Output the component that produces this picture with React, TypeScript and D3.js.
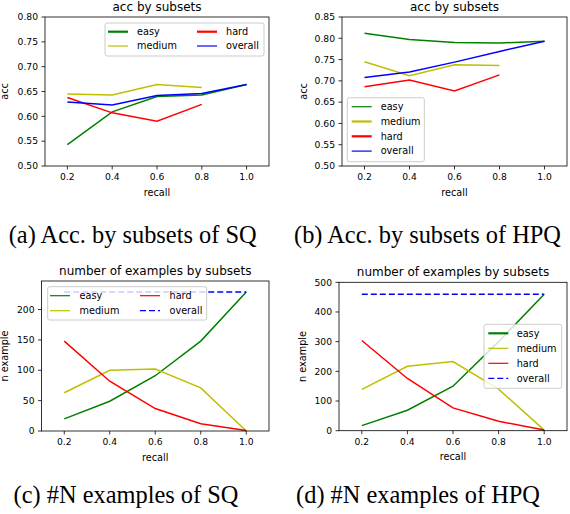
import React from "react";
import * as d3 from "d3";

// recall thresholds shared by all four panels
const recall = [0.2, 0.4, 0.6, 0.8, 1.0];
const xTicks = [0.2, 0.4, 0.6, 0.8, 1.0];

// (a) accuracy by subsets, SQ
const sqAccEasy = [0.543, 0.609, 0.64, 0.643, 0.664];
const sqAccMedium = [0.645, 0.643, 0.664, 0.658, null];
const sqAccHard = [0.638, 0.607, 0.59, 0.624, null];
const sqAccOverall = [0.629, 0.623, 0.642, 0.646, 0.664];
const sqAccTicks = [0.5, 0.55, 0.6, 0.65, 0.7, 0.75, 0.8];

// (b) accuracy by subsets, HPQ
const hpqAccEasy = [0.812, 0.797, 0.79, 0.789, 0.793];
const hpqAccMedium = [0.745, 0.712, 0.738, 0.736, null];
const hpqAccHard = [0.686, 0.702, 0.676, 0.714, null];
const hpqAccOverall = [0.708, 0.721, 0.744, 0.769, 0.793];
const hpqAccTicks = [0.5, 0.55, 0.6, 0.65, 0.7, 0.75, 0.8, 0.85];

// (c) number of examples, SQ
const sqNEasy = [20, 49, 91, 148, 229];
const sqNMedium = [63, 100, 102, 71, 0];
const sqNHard = [148, 82, 37, 12, 1];
const sqNOverall = [229, 229, 229, 229, 229];
const sqNTicks = [0, 50, 100, 150, 200];

// (d) number of examples, HPQ
const hpqNEasy = [17, 69, 150, 300, 460];
const hpqNMedium = [139, 217, 233, 140, 2];
const hpqNHard = [304, 176, 77, 32, 2];
const hpqNOverall = [460, 460, 460, 460, 460];
const hpqNTicks = [0, 100, 200, 300, 400, 500];

const COLORS: Record<string, string> = {
  easy: "#008000",
  medium: "#bfbf00",
  hard: "#ff0000",
  overall: "#0000ff",
};

const SANS = "'DejaVu Sans', sans-serif";
const SERIF = "'Liberation Serif', 'Times New Roman', serif";

interface Series {
  name: string;
  values: (number | null)[];
  dashed?: boolean;
}

interface LegendItem {
  name: string;
  col: number;
  row: number;
  lw: number;
  dashed?: boolean;
}

interface LegendSpec {
  box: [number, number, number, number];
  rowY: number[];
  colX: number[];
  textOff: number;
  items: LegendItem[];
}

interface PanelProps {
  x0: number;
  x1: number;
  y0: number;
  y1: number;
  yDomain: [number, number];
  yTicks: number[];
  yFormat: (v: number) => string;
  title: string;
  ylabel: string;
  ylabelX: number;
  series: Series[];
  legend: LegendSpec;
  caption: string;
  captionX: number;
  captionY: number;
}

const Panel: React.FC<PanelProps> = (p) => {
  const x = d3.scaleLinear().domain([0.1, 1.1]).range([p.x0, p.x1]);
  const y = d3.scaleLinear().domain(p.yDomain).range([p.y1, p.y0]);
  const line = d3
    .line<[number, number | null]>()
    .defined((d) => d[1] != null)
    .x((d) => x(d[0]))
    .y((d) => y(d[1] as number));
  const fmtX = d3.format(".1f");
  const lg = p.legend;

  return (
    <g>
      {p.series.map((s) => (
        <path
          key={s.name}
          d={line(recall.map((r, i) => [r, s.values[i]])) || ""}
          fill="none"
          stroke={COLORS[s.name]}
          strokeWidth={1.5}
          strokeDasharray={s.dashed ? "6,3" : undefined}
        />
      ))}
      <rect
        x={p.x0}
        y={p.y0}
        width={p.x1 - p.x0}
        height={p.y1 - p.y0}
        fill="none"
        stroke="#000"
        strokeWidth={0.8}
      />
      {xTicks.map((t) => (
        <g key={t}>
          <line x1={x(t)} x2={x(t)} y1={p.y1} y2={p.y1 + 3.5} stroke="#000" strokeWidth={0.8} />
          <text x={x(t)} y={p.y1 + 14} textAnchor="middle" fontSize={9.2} fontFamily={SANS}>
            {fmtX(t)}
          </text>
        </g>
      ))}
      {p.yTicks.map((t) => (
        <g key={t}>
          <line x1={p.x0 - 3.5} x2={p.x0} y1={y(t)} y2={y(t)} stroke="#000" strokeWidth={0.8} />
          <text x={p.x0 - 7} y={y(t)} dy="0.35em" textAnchor="end" fontSize={9.2} fontFamily={SANS}>
            {p.yFormat(t)}
          </text>
        </g>
      ))}
      <text
        x={(p.x0 + p.x1) / 2}
        y={p.y0 - 6}
        textAnchor="middle"
        fontSize={12}
        fontFamily={SANS}
      >
        {p.title}
      </text>
      <text
        x={(p.x0 + p.x1) / 2}
        y={p.y1 + 29.5}
        textAnchor="middle"
        fontSize={9.7}
        fontFamily={SANS}
      >
        recall
      </text>
      <text
        transform={`translate(${p.ylabelX},${(p.y0 + p.y1) / 2}) rotate(-90)`}
        textAnchor="middle"
        fontSize={9.7}
        fontFamily={SANS}
      >
        {p.ylabel}
      </text>
      <rect
        x={lg.box[0]}
        y={lg.box[1]}
        width={lg.box[2]}
        height={lg.box[3]}
        rx={2}
        fill="#fff"
        fillOpacity={0.8}
        stroke="#cccccc"
        strokeWidth={1}
      />
      {lg.items.map((it) => (
        <g key={it.name}>
          <line
            x1={lg.colX[it.col]}
            x2={lg.colX[it.col] + 20}
            y1={lg.rowY[it.row]}
            y2={lg.rowY[it.row]}
            stroke={COLORS[it.name]}
            strokeWidth={it.lw}
            strokeDasharray={it.dashed ? "6,3" : undefined}
          />
          <text
            x={lg.colX[it.col] + lg.textOff}
            y={lg.rowY[it.row]}
            dy="0.35em"
            fontSize={9.7}
            fontFamily={SANS}
          >
            {it.name}
          </text>
        </g>
      ))}
      <text x={p.captionX} y={p.captionY} textAnchor="middle" fontSize={24.4} fontFamily={SERIF}>
        {p.caption}
      </text>
    </g>
  );
};

const fmt2 = d3.format(".2f");
const fmt0 = d3.format("d");

export default function App() {
  return (
    <svg
      width={570}
      height={514}
      style={{ position: "absolute", left: 0, top: 0, background: "#fff" }}
    >
      <Panel
        x0={45}
        x1={269}
        y0={17}
        y1={166}
        yDomain={[0.5, 0.8]}
        yTicks={sqAccTicks}
        yFormat={fmt2}
        title="acc by subsets"
        ylabel="acc"
        ylabelX={8}
        series={[
          { name: "easy", values: sqAccEasy },
          { name: "medium", values: sqAccMedium },
          { name: "hard", values: sqAccHard },
          { name: "overall", values: sqAccOverall },
        ]}
        legend={{
          box: [105, 23, 159, 33],
          rowY: [31.7, 46],
          colX: [108, 197],
          textOff: 29,
          items: [
            { name: "easy", col: 0, row: 0, lw: 2.2 },
            { name: "medium", col: 0, row: 1, lw: 1.2 },
            { name: "hard", col: 1, row: 0, lw: 2.2 },
            { name: "overall", col: 1, row: 1, lw: 1.2 },
          ],
        }}
        caption="(a) Acc. by subsets of SQ"
        captionX={132.7}
        captionY={242.5}
      />
      <Panel
        x0={342}
        x1={567}
        y0={17}
        y1={166}
        yDomain={[0.5, 0.85]}
        yTicks={hpqAccTicks}
        yFormat={fmt2}
        title="acc by subsets"
        ylabel="acc"
        ylabelX={306.5}
        series={[
          { name: "easy", values: hpqAccEasy },
          { name: "medium", values: hpqAccMedium },
          { name: "hard", values: hpqAccHard },
          { name: "overall", values: hpqAccOverall },
        ]}
        legend={{
          box: [347.3, 97.7, 77, 64],
          rowY: [106.7, 121.5, 136.3, 151.1],
          colX: [351.7],
          textOff: 29,
          items: [
            { name: "easy", col: 0, row: 0, lw: 1.2 },
            { name: "medium", col: 0, row: 1, lw: 2.2 },
            { name: "hard", col: 0, row: 2, lw: 2.2 },
            { name: "overall", col: 0, row: 3, lw: 1.2 },
          ],
        }}
        caption="(b) Acc. by subsets of HPQ"
        captionX={427.5}
        captionY={242.5}
      />
      <Panel
        x0={41.5}
        x1={269}
        y0={281}
        y1={431}
        yDomain={[0, 247]}
        yTicks={sqNTicks}
        yFormat={fmt0}
        title="number of examples by subsets"
        ylabel="n example"
        ylabelX={8}
        series={[
          { name: "easy", values: sqNEasy },
          { name: "medium", values: sqNMedium },
          { name: "hard", values: sqNHard },
          { name: "overall", values: sqNOverall, dashed: true },
        ]}
        legend={{
          box: [47.7, 286.7, 159, 33.3],
          rowY: [295.7, 310.7],
          colX: [50, 140],
          textOff: 29.5,
          items: [
            { name: "easy", col: 0, row: 0, lw: 1.2 },
            { name: "medium", col: 0, row: 1, lw: 1.2 },
            { name: "hard", col: 1, row: 0, lw: 1.2 },
            { name: "overall", col: 1, row: 1, lw: 1.2, dashed: true },
          ],
        }}
        caption="(c) #N examples of SQ"
        captionX={126}
        captionY={503}
      />
      <Panel
        x0={339}
        x1={567}
        y0={282.3}
        y1={430.7}
        yDomain={[0, 500]}
        yTicks={hpqNTicks}
        yFormat={fmt0}
        title="number of examples by subsets"
        ylabel="n example"
        ylabelX={305.5}
        series={[
          { name: "easy", values: hpqNEasy },
          { name: "medium", values: hpqNMedium },
          { name: "hard", values: hpqNHard },
          { name: "overall", values: hpqNOverall, dashed: true },
        ]}
        legend={{
          box: [484, 324.3, 77.7, 64],
          rowY: [333.3, 348.3, 363.3, 378.3],
          colX: [488.3],
          textOff: 28.4,
          items: [
            { name: "easy", col: 0, row: 0, lw: 2.2 },
            { name: "medium", col: 0, row: 1, lw: 1.2 },
            { name: "hard", col: 0, row: 2, lw: 1.2 },
            { name: "overall", col: 0, row: 3, lw: 1.2, dashed: true },
          ],
        }}
        caption="(d) #N examples of HPQ"
        captionX={418}
        captionY={503}
      />
    </svg>
  );
}
